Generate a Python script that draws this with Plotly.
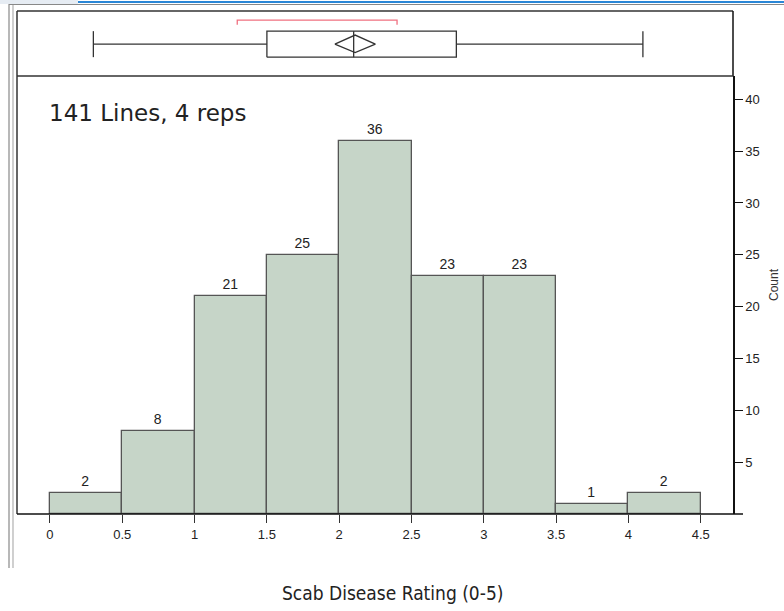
import plotly.graph_objects as go

# ---- data ----
bin_starts = [0.0, 0.5, 1.0, 1.5, 2.0, 2.5, 3.0, 3.5, 4.0]
bin_width = 0.5
counts = [2, 8, 21, 25, 36, 23, 23, 1, 2]
x_ticks = [0, 0.5, 1, 1.5, 2, 2.5, 3, 3.5, 4, 4.5]
x_tick_labels = ["0", "0.5", "1", "1.5", "2", "2.5", "3", "3.5", "4", "4.5"]
y_ticks = [5, 10, 15, 20, 25, 30, 35, 40]
y_tick_labels = ["5", "10", "15", "20", "25", "30", "35", "40"]
box_whisker_lo = 0.30
box_q1 = 1.50
box_median = 2.10
box_q3 = 2.81
box_whisker_hi = 4.10
mean_val = 2.11
mean_ci = [1.97, 2.25]
shortest_half = [1.295, 2.40]
note_text = "141 Lines, 4 reps"
x_title = "Scab Disease Rating (0-5)"
y_title = "Count"

W, H = 784, 611
L, R, T, B = 17, 51, 11, 97
PW, PH = W - L - R, H - T - B
hist_top_px = 76
hist_dom = (514 - hist_top_px) / PH


def px(x):
    return (x - L) / PW


def py(y):
    return (H - B - y) / PH


fig = go.Figure()

bar_fill = "#c6d5c8"
bar_edge = "#555555"
fig.add_trace(go.Bar(
    x=[s + bin_width / 2 for s in bin_starts],
    y=counts,
    width=bin_width,
    marker=dict(color=bar_fill, line=dict(color=bar_edge, width=1.3)),
    text=[str(c) for c in counts],
    textposition="outside",
    textfont=dict(family="Liberation Sans, Arial", size=14, color="#222222"),
    cliponaxis=False,
    hoverinfo="skip",
    showlegend=False,
))

# ---- box panel (outlier box plot) ----
ln = dict(color="#333333", width=1.3)
y_box_lo, y_box_hi, y_mid = 0.29, 0.69, 0.49
y_cap_lo, y_cap_hi = 0.29, 0.69
fig.add_trace(go.Scatter(x=[box_whisker_lo, box_q1], y=[y_mid, y_mid], mode="lines",
                         line=ln, yaxis="y2", showlegend=False, hoverinfo="skip"))
fig.add_trace(go.Scatter(x=[box_q3, box_whisker_hi], y=[y_mid, y_mid], mode="lines",
                         line=ln, yaxis="y2", showlegend=False, hoverinfo="skip"))
for v in [box_whisker_lo, box_whisker_hi]:
    fig.add_trace(go.Scatter(x=[v, v], y=[y_cap_lo, y_cap_hi], mode="lines",
                             line=ln, yaxis="y2", showlegend=False, hoverinfo="skip"))
fig.add_trace(go.Scatter(x=[box_q1, box_q3, box_q3, box_q1, box_q1],
                         y=[y_box_lo, y_box_lo, y_box_hi, y_box_hi, y_box_lo],
                         mode="lines", line=ln, yaxis="y2", showlegend=False, hoverinfo="skip"))
fig.add_trace(go.Scatter(x=[box_median, box_median], y=[y_box_lo, y_box_hi], mode="lines",
                         line=ln, yaxis="y2", showlegend=False, hoverinfo="skip"))
fig.add_trace(go.Scatter(x=[mean_ci[0], mean_val, mean_ci[1], mean_val, mean_ci[0]],
                         y=[y_mid, 0.63, y_mid, 0.36, y_mid],
                         mode="lines", line=ln, yaxis="y2", showlegend=False, hoverinfo="skip"))
fig.add_trace(go.Scatter(x=[shortest_half[0], shortest_half[0], shortest_half[1], shortest_half[1]],
                         y=[0.79, 0.86, 0.86, 0.79], mode="lines",
                         line=dict(color="#f07080", width=1.3), yaxis="y2",
                         showlegend=False, hoverinfo="skip"))

frame = "#333333"
shapes = [
    dict(type="line", xref="paper", yref="paper", x0=px(17), x1=px(17), y0=py(11), y1=py(514),
         line=dict(color=frame, width=1.5)),
    dict(type="line", xref="paper", yref="paper", x0=px(17), x1=px(733), y0=py(11), y1=py(11),
         line=dict(color=frame, width=1.5)),
    dict(type="line", xref="paper", yref="paper", x0=px(733), x1=px(733), y0=py(11), y1=py(76),
         line=dict(color="#111111", width=1.5)),
    dict(type="line", xref="paper", yref="paper", x0=px(17), x1=px(733), y0=py(76), y1=py(76),
         line=dict(color=frame, width=1.5)),
    dict(type="line", xref="paper", yref="paper", x0=px(17), x1=px(743), y0=py(514), y1=py(514),
         line=dict(color="#111111", width=1.5)),
    dict(type="line", xref="paper", yref="paper", x0=px(9), x1=px(9), y0=py(4), y1=py(568),
         line=dict(color="#a0a0a0", width=1.5)),
    dict(type="line", xref="paper", yref="paper", x0=px(13), x1=px(13), y0=py(4), y1=py(568),
         line=dict(color="#b0b0b0", width=1.2)),
    dict(type="rect", xref="paper", yref="paper", x0=px(0), x1=px(78), y0=py(0), y1=py(4),
         fillcolor="#e6ecf3", line=dict(width=0)),
    dict(type="line", xref="paper", yref="paper", x0=px(78), x1=px(784), y0=py(2), y1=py(2),
         line=dict(color="#2a86d6", width=2)),
    dict(type="line", xref="paper", yref="paper", x0=px(9), x1=px(784), y0=py(4.5), y1=py(4.5),
         line=dict(color="#888888", width=1)),
]

annotations = [
    dict(text=note_text, xref="paper", yref="paper", x=px(47), y=py(113), xanchor="left",
         yanchor="middle", showarrow=False,
         font=dict(family="DejaVu Sans", size=23, color="#222222")),
    dict(text=x_title, xref="paper", yref="paper", x=px(392), y=py(593), xanchor="center",
         yanchor="middle", showarrow=False,
         font=dict(family="DejaVu Sans Condensed, DejaVu Sans", size=19, color="#222222")),
    dict(text=y_title, xref="paper", yref="paper", x=px(774), y=py(285), xanchor="center",
         yanchor="middle", showarrow=False, textangle=-90,
         font=dict(family="Liberation Sans, Arial", size=12, color="#333333")),
]

fig.update_layout(
    width=W, height=H,
    margin=dict(l=L, r=R, t=T, b=B, pad=0),
    paper_bgcolor="white", plot_bgcolor="white",
    bargap=0,
    showlegend=False,
    xaxis=dict(range=[-0.228, 4.723], tickvals=x_ticks, ticktext=x_tick_labels,
               ticks="outside", ticklen=8, tickcolor="#333333", tickwidth=1.3,
               showgrid=False, zeroline=False, showline=False,
               tickfont=dict(family="Liberation Sans, Arial", size=13, color="#222222"),
               anchor="y", fixedrange=True),
    yaxis=dict(domain=[0, hist_dom], range=[0, 42.25], side="right",
               tickvals=y_ticks, ticktext=y_tick_labels,
               ticks="outside", ticklen=8, tickcolor="#111111", tickwidth=1.3,
               showline=True, linecolor="#111111", linewidth=1.5, mirror=False,
               showgrid=False, zeroline=False,
               tickfont=dict(family="Liberation Sans, Arial", size=13, color="#222222"),
               fixedrange=True),
    yaxis2=dict(domain=[hist_dom, 1], range=[0, 1], visible=False, anchor="x",
                fixedrange=True),
    shapes=shapes,
    annotations=annotations,
)

fig.write_html("out.html")
